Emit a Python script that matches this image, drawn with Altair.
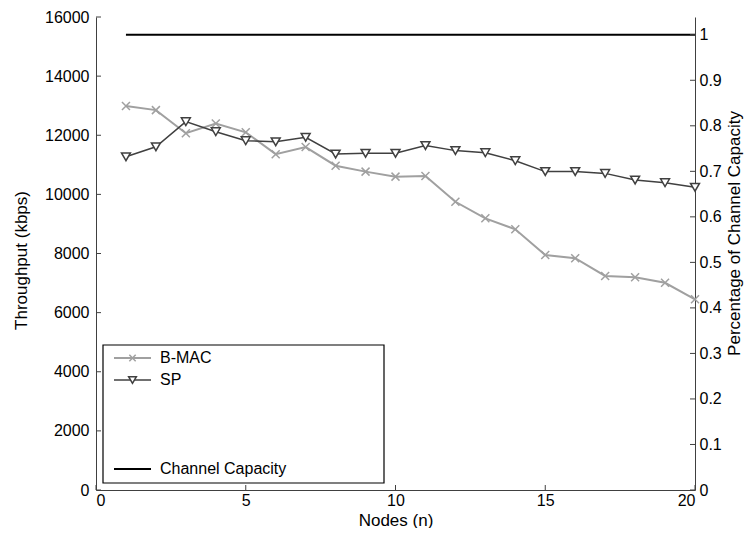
import altair as alt
import pandas as pd

# ---------------- data ----------------
nodes = list(range(1, 21))
bmac = [12990, 12850, 12070, 12400, 12100, 11360, 11600, 10970, 10770, 10600,
        10620, 9750, 9190, 8820, 7950, 7840, 7240, 7195, 7010, 6450]
sp = [11270, 11610, 12460, 12120, 11815, 11780, 11930, 11365, 11390, 11390,
      11650, 11480, 11410, 11140, 10770, 10770, 10710, 10485, 10395, 10240]
cap_nodes = [1, 20]
cap_pct = [1.0, 1.0]

x_ticks = [0, 5, 10, 15, 20]
left_ticks = [0, 2000, 4000, 6000, 8000, 10000, 12000, 14000, 16000]
right_ticks = [0, 0.1, 0.2, 0.3, 0.4, 0.5, 0.6, 0.7, 0.8, 0.9, 1.0]
legend_labels = ["B-MAC", "SP", "Channel Capacity"]

# ---------------- style ----------------
FONT = "Liberation Sans"
W, H = 599, 473
AX = "#404040"
C_BMAC = "#a0a0a0"
C_SP = "#404040"
XSHAPE = "M-1,-1L1,1M-1,1L1,-1"

common_axis = dict(grid=False, ticks=False, domainColor=AX, domainWidth=1,
                   labelFont=FONT, labelFontSize=16, labelColor="black",
                   titleFont=FONT, titleFontSize=17, titleFontWeight="normal",
                   titleColor="black")

x_axis = alt.Axis(values=x_ticks, format="d", title="Nodes (n)", labelPadding=2,
                  titlePadding=4, **common_axis)
xenc = alt.X("n:Q", scale=alt.Scale(domain=[0, 20], nice=False, zero=False), axis=x_axis)

yl_axis = alt.Axis(values=left_ticks, format="d", title="Throughput (kbps)",
                   labelPadding=7, titleAngle=270, titleX=-75, titleY=243,
                   titleAlign="center", titleBaseline="middle", **common_axis)
yl = alt.Y("thr:Q", scale=alt.Scale(domain=[0, 16000], nice=False), axis=yl_axis)

yr_axis = alt.Axis(orient="right", values=right_ticks, format="~g",
                   title="Percentage of Channel Capacity", labelPadding=4,
                   titleAngle=270, titleX=39, titleY=216, titleAlign="center",
                   titleBaseline="middle", **common_axis)
yr = alt.Y("pct:Q", scale=alt.Scale(domain=[0, 1.039], nice=False), axis=yr_axis)

bmac_df = pd.DataFrame({"n": nodes, "thr": bmac})
sp_df = pd.DataFrame({"n": nodes, "thr": sp})
cap_df = pd.DataFrame({"n": cap_nodes, "pct": cap_pct})
one = pd.DataFrame({"a": [0]})

bmac_line = alt.Chart(bmac_df).mark_line(color=C_BMAC, strokeWidth=2).encode(x=xenc, y=yl)
bmac_pts = alt.Chart(bmac_df).mark_point(shape=XSHAPE, stroke=C_BMAC, filled=False,
                                         size=64, strokeWidth=1.5, opacity=1).encode(x=xenc, y=yl)
sp_line = alt.Chart(sp_df).mark_line(color=C_SP, strokeWidth=1.5).encode(x=xenc, y=yl)
sp_pts = alt.Chart(sp_df).mark_point(shape="triangle-down", filled=True, fill="white",
                                     stroke=C_SP, size=80, strokeWidth=1.5,
                                     opacity=1).encode(x=xenc, y=yl)

lt = alt.Chart(pd.DataFrame({"thr": left_ticks})).mark_rule(color=AX).encode(
    y=yl, x=alt.value(0), x2=alt.value(5))
bt = alt.Chart(pd.DataFrame({"n": x_ticks})).mark_rule(color=AX).encode(
    x=xenc, y=alt.value(H - 5), y2=alt.value(H))

# legend (drawn as marks)
box = alt.Chart(one).mark_rect(fill="white", stroke="black", strokeWidth=1.2).encode(
    x=alt.value(7), x2=alt.value(288), y=alt.value(328), y2=alt.value(466))
ly = [341, 363, 452]
leg = [box]
leg.append(alt.Chart(one).mark_rule(color=C_BMAC, strokeWidth=2).encode(
    x=alt.value(18), x2=alt.value(55), y=alt.value(ly[0])))
leg.append(alt.Chart(one).mark_point(shape=XSHAPE, stroke=C_BMAC, filled=False, size=40,
                                     strokeWidth=1.5, opacity=1).encode(
    x=alt.value(36.5), y=alt.value(ly[0])))
leg.append(alt.Chart(one).mark_rule(color=C_SP, strokeWidth=1.5).encode(
    x=alt.value(18), x2=alt.value(55), y=alt.value(ly[1])))
leg.append(alt.Chart(one).mark_point(shape="triangle-down", filled=True, fill="white",
                                     stroke=C_SP, size=60, strokeWidth=1.5, opacity=1).encode(
    x=alt.value(36.5), y=alt.value(ly[1])))
leg.append(alt.Chart(one).mark_rule(color="black", strokeWidth=2).encode(
    x=alt.value(18), x2=alt.value(55), y=alt.value(ly[2])))
for lab, yy in zip(legend_labels, ly):
    leg.append(alt.Chart(one).mark_text(align="left", baseline="middle", font=FONT,
                                        fontSize=16, color="black").encode(
        x=alt.value(64), y=alt.value(yy), text=alt.value(lab)))

left = alt.layer(bmac_line, bmac_pts, sp_line, sp_pts, lt, bt, *leg)

cap_line = alt.Chart(cap_df).mark_line(color="black", strokeWidth=2).encode(x=xenc, y=yr)
rt = alt.Chart(pd.DataFrame({"pct": right_ticks})).mark_rule(color=AX).encode(
    y=yr, x=alt.value(W - 5), x2=alt.value(W))
right = alt.layer(cap_line, rt)

chart = alt.layer(left, right).resolve_scale(y="independent").properties(
    width=W, height=H,
    autosize=alt.AutoSizeParams(type="none"),
    padding={"left": 88, "top": 9, "right": 49, "bottom": 38},
    background="white",
).configure_view(stroke=None)

chart.save("out.html", embed_options={"renderer": "svg", "actions": False})
